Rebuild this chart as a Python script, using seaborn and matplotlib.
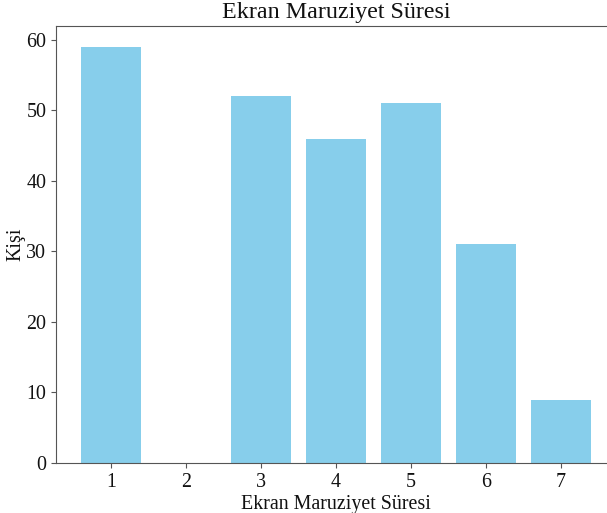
import numpy as np
import pandas as pd
import matplotlib
matplotlib.use("Agg")
import matplotlib.pyplot as plt
import seaborn as sns

# screen exposure (category) and number of people
sure = [1, 2, 3, 4, 5, 6, 7]
kisi = [59, 0, 52, 46, 51, 31, 9]

df = pd.DataFrame({"sure": sure, "kisi": kisi})

sns.set_style("ticks")
plt.rcParams["font.family"] = ["Liberation Serif", "DejaVu Serif"]
plt.rcParams["font.size"] = 14.4

fig = plt.figure(figsize=(6.07, 5.13), dpi=100, facecolor="white")
ax = fig.add_axes([56 / 607, 50 / 513, 560 / 607, 437 / 513])

sns.barplot(data=df, x="sure", y="kisi", color="skyblue", saturation=1,
            native_scale=True, width=0.8, linewidth=0, ax=ax)

ax.set_xlim(0.26, 7.74)
ax.set_ylim(0, max(kisi) * 1.05)
ax.set_xticks(sure)
ax.set_xticklabels([str(s) for s in sure])
for sp in ax.spines.values():
    sp.set_visible(True)
    sp.set_color("#555555")
ax.spines["right"].set_visible(False)
ax.tick_params(length=3.5, color="#555555", labelcolor="#111111", labelsize=14.4)

ax.set_title("Ekran Maruziyet Süresi", fontsize=17.3, color="#111111")
ax.set_xlabel("Ekran Maruziyet Süresi", fontsize=14.4, color="#111111", labelpad=2)
ax.set_ylabel("Kişi", fontsize=14.4, color="#111111", labelpad=0.5)

fig.savefig("out.png", dpi=100, facecolor="white")
